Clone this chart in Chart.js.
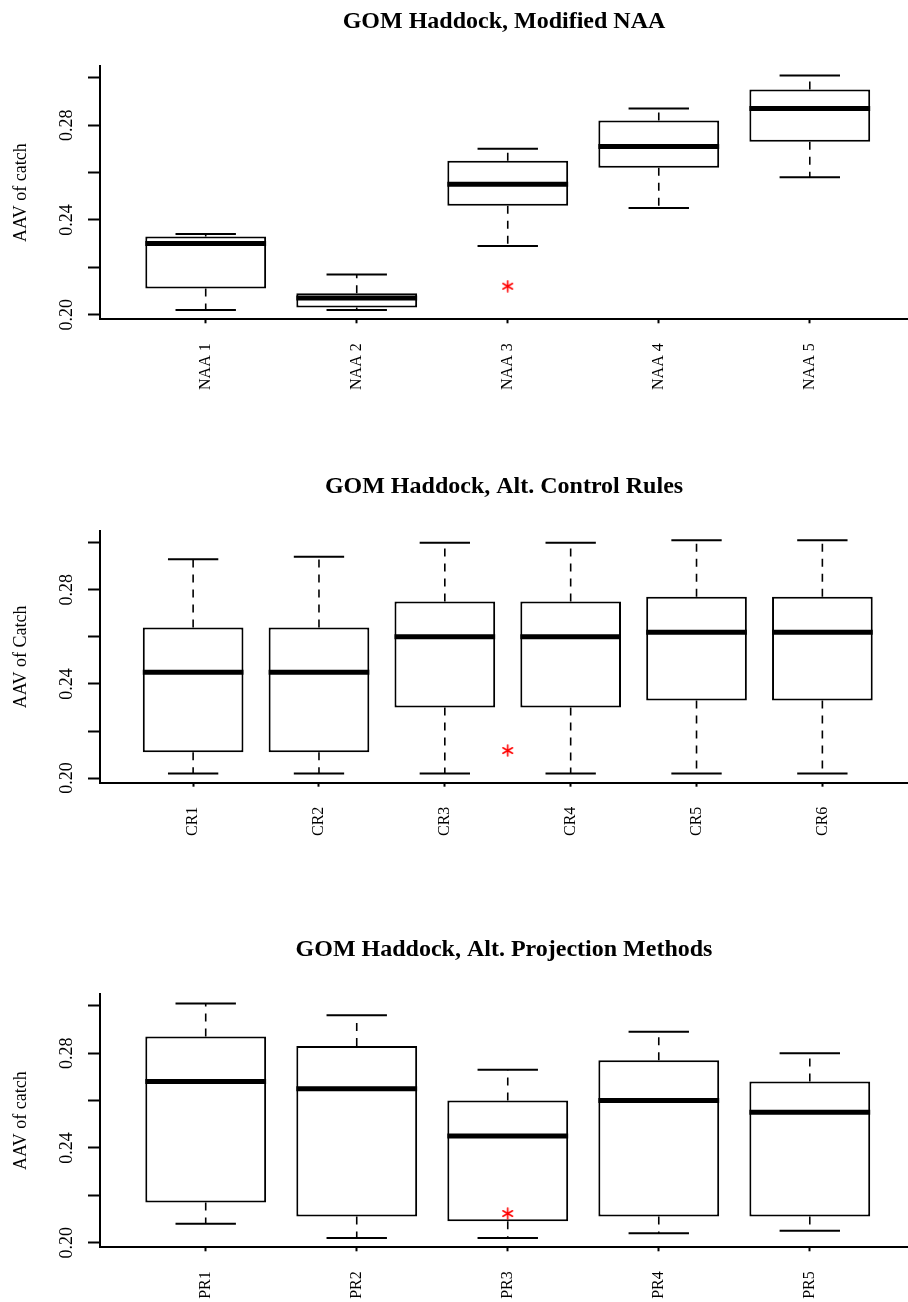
<!DOCTYPE html>
<html>
<head>
<meta charset="utf-8">
<script src="https://cdn.jsdelivr.net/npm/chart.js@4.4.1/dist/chart.umd.min.js"></script>
<style>
    html, body { margin: 0; padding: 0; background: #fff; overflow: hidden; }
    canvas { position: absolute; left: 0; }
</style>
</head>
<body>
<canvas id="panel-naa" width="908" height="440" style="top:0px"></canvas>
<canvas id="panel-cr" width="908" height="440" style="top:465px"></canvas>
<canvas id="panel-pr" width="908" height="374" style="top:928px"></canvas>
<script>
// Y ticks shared by all three panels (only every other one labelled)
const yTickValues = [0.20, 0.22, 0.24, 0.26, 0.28, 0.30];
const yTickLabels = ['0.20', '', '0.24', '', '0.28', ''];

// Modified NAA runs
const naaLabels = ['NAA 1', 'NAA 2', 'NAA 3', 'NAA 4', 'NAA 5'];
const naaLow    = [0.202, 0.202, 0.229, 0.245, 0.258];
const naaQ1     = [0.211, 0.203, 0.246, 0.262, 0.273];
const naaMedian = [0.230, 0.207, 0.255, 0.271, 0.287];
const naaQ3     = [0.233, 0.209, 0.265, 0.282, 0.295];
const naaHigh   = [0.234, 0.217, 0.270, 0.287, 0.301];
const naaOutX   = [3];
const naaOutY   = [0.212];

// Alternative control rules
const crLabels = ['CR1', 'CR2', 'CR3', 'CR4', 'CR5', 'CR6'];
const crLow    = [0.202, 0.202, 0.202, 0.202, 0.202, 0.202];
const crQ1     = [0.211, 0.211, 0.230, 0.230, 0.233, 0.233];
const crMedian = [0.245, 0.245, 0.260, 0.260, 0.262, 0.262];
const crQ3     = [0.264, 0.264, 0.275, 0.275, 0.277, 0.277];
const crHigh   = [0.293, 0.294, 0.300, 0.300, 0.301, 0.301];
const crOutX   = [3.5];
const crOutY   = [0.2117];

// Alternative projection methods
const prLabels = ['PR1', 'PR2', 'PR3', 'PR4', 'PR5'];
const prLow    = [0.208, 0.202, 0.202, 0.204, 0.205];
const prQ1     = [0.217, 0.211, 0.209, 0.211, 0.211];
const prMedian = [0.268, 0.265, 0.245, 0.260, 0.255];
const prQ3     = [0.287, 0.283, 0.260, 0.277, 0.268];
const prHigh   = [0.301, 0.296, 0.273, 0.289, 0.280];
const prOutX   = [3];
const prOutY   = [0.2123];

const SERIF = "'Liberation Serif', 'Times New Roman', serif";

// Red asterisk used as point style for the flagged points
function makeStar(size, color) {
    const c = document.createElement('canvas');
    c.width = size;
    c.height = size;
    const g = c.getContext('2d');
    g.strokeStyle = color;
    g.lineWidth = 1.6;
    g.lineCap = 'round';
    const r = size / 2 - 1;
    for (let k = 0; k < 3; k++) {
        const a = Math.PI / 2 + k * Math.PI / 3;
        g.beginPath();
        g.moveTo(size / 2 + r * Math.cos(a), size / 2 - r * Math.sin(a));
        g.lineTo(size / 2 - r * Math.cos(a), size / 2 + r * Math.sin(a));
        g.stroke();
    }
    return c;
}
const star = makeStar(13, '#ff0000');

function drawPanel(id, cfg) {
    const n = cfg.labels.length;
    const xs = cfg.labels.map((_, i) => i + 1);

    // Boxes as floating bars, the rest as broken line segments
    const boxes = xs.map((x, i) => ({ x: x, y: [cfg.q1[i], cfg.q3[i]] }));
    const medians = [];
    const whiskers = [];
    const caps = [];
    xs.forEach((x, i) => {
        medians.push({ x: x - 0.4, y: cfg.med[i] }, { x: x + 0.4, y: cfg.med[i] }, { x: x + 0.4, y: null });
        whiskers.push({ x: x, y: cfg.q3[i] }, { x: x, y: cfg.hi[i] }, { x: x, y: null },
                      { x: x, y: cfg.q1[i] }, { x: x, y: cfg.lo[i] }, { x: x, y: null });
        caps.push({ x: x - 0.2, y: cfg.hi[i] }, { x: x + 0.2, y: cfg.hi[i] }, { x: x + 0.2, y: null },
                  { x: x - 0.2, y: cfg.lo[i] }, { x: x + 0.2, y: cfg.lo[i] }, { x: x + 0.2, y: null });
    });
    const outliers = cfg.outX.map((x, i) => ({ x: x, y: cfg.outY[i] }));

    // y range: data span widened by 4% each side
    const all = cfg.lo.concat(cfg.hi, cfg.outY);
    const lo = Math.min(...all);
    const hi = Math.max(...all);
    const pad = 0.04 * (hi - lo);

    // x range 0.5..n+0.5 widened by 4%, plot runs a little past the page edge
    const xMin = 0.5 - 0.04 * n;
    const xMax = xMin + 1.08 * n * 808 / 815.5;

    new Chart(document.getElementById(id), {
        type: 'bar',
        data: {
            datasets: [
                {
                    type: 'bar',
                    data: boxes,
                    backgroundColor: '#ffffff',
                    borderColor: '#000000',
                    borderWidth: 2,
                    borderSkipped: false,
                    barPercentage: 0.8,
                    categoryPercentage: 1,
                    order: 2
                },
                {
                    type: 'line',
                    data: whiskers,
                    borderColor: '#000000',
                    borderWidth: 1.6,
                    borderDash: [8, 7],
                    pointRadius: 0,
                    order: 3
                },
                {
                    type: 'line',
                    data: caps,
                    borderColor: '#000000',
                    borderWidth: 2,
                    pointRadius: 0,
                    order: 3
                },
                {
                    type: 'line',
                    data: medians,
                    borderColor: '#000000',
                    borderWidth: 5,
                    borderCapStyle: 'butt',
                    pointRadius: 0,
                    order: 1
                },
                {
                    type: 'scatter',
                    data: outliers,
                    pointStyle: star,
                    pointRadius: 6,
                    order: 0
                }
            ]
        },
        options: {
            responsive: false,
            animation: false,
            devicePixelRatio: 1,
            layout: { padding: 0, autoPadding: false },
            plugins: {
                legend: { display: false },
                tooltip: { enabled: false },
                title: {
                    display: true,
                    text: cfg.title,
                    fullSize: false,
                    color: '#000',
                    font: { family: SERIF, size: 24, weight: 'bold' },
                    padding: { top: 7.6, bottom: 29.6 }
                }
            },
            scales: {
                x: {
                    type: 'linear',
                    offset: false,
                    min: xMin,
                    max: xMax,
                    afterBuildTicks: s => { s.ticks = xs.map(v => ({ value: v })); },
                    afterFit: s => { s.height = cfg.axisHeight; },
                    grid: { offset: false, drawOnChartArea: false, tickLength: 4, tickColor: '#000', tickWidth: 2 },
                    border: { color: '#000', width: 2 },
                    ticks: {
                        autoSkip: false,
                        minRotation: 90,
                        maxRotation: 90,
                        padding: 20,
                        color: '#000',
                        font: { family: SERIF, size: 16 },
                        callback: (v, i) => cfg.labels[i]
                    }
                },
                y: {
                    min: lo - pad,
                    max: hi + pad,
                    afterBuildTicks: s => { s.ticks = yTickValues.map(v => ({ value: v })); },
                    afterFit: s => { s.width = 100; },
                    grid: { drawOnChartArea: false, tickLength: 12, tickColor: '#000', tickWidth: 2 },
                    border: { color: '#000', width: 2 },
                    ticks: {
                        autoSkip: false,
                        minRotation: 90,
                        maxRotation: 90,
                        crossAlign: 'center',
                        padding: 5,
                        color: '#000',
                        font: { family: SERIF, size: 18 },
                        callback: (v, i) => yTickLabels[i]
                    },
                    title: {
                        display: true,
                        text: cfg.yTitle,
                        color: '#000',
                        font: { family: SERIF, size: 18 },
                        padding: { top: 10, bottom: 0 }
                    }
                }
            }
        }
    });
}

drawPanel('panel-naa', {
    title: 'GOM Haddock, Modified NAA', yTitle: 'AAV of catch', axisHeight: 120.7,
    labels: naaLabels, lo: naaLow, q1: naaQ1, med: naaMedian, q3: naaQ3, hi: naaHigh,
    outX: naaOutX, outY: naaOutY
});
drawPanel('panel-cr', {
    title: 'GOM Haddock, Alt. Control Rules', yTitle: 'AAV of Catch', axisHeight: 122.3,
    labels: crLabels, lo: crLow, q1: crQ1, med: crMedian, q3: crQ3, hi: crHigh,
    outX: crOutX, outY: crOutY
});
drawPanel('panel-pr', {
    title: 'GOM Haddock, Alt. Projection Methods', yTitle: 'AAV of catch', axisHeight: 54.7,
    labels: prLabels, lo: prLow, q1: prQ1, med: prMedian, q3: prQ3, hi: prHigh,
    outX: prOutX, outY: prOutY
});
</script>
</body>
</html>
